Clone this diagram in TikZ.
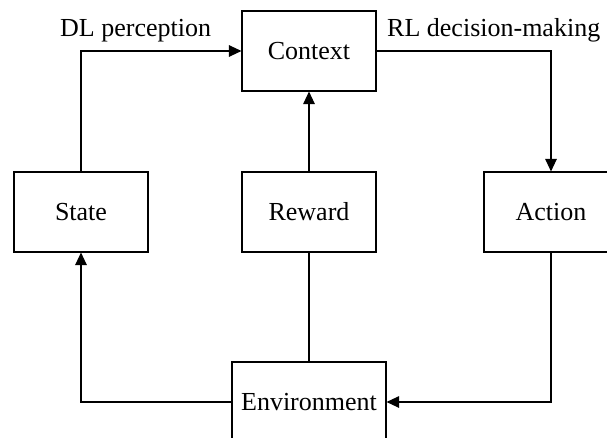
\documentclass[tikz,border=0pt]{standalone}
\usepackage{fontspec}
\setmainfont{Liberation Serif}
\usetikzlibrary{arrows.meta}

\begin{document}
\begin{tikzpicture}[x=1pt, y=-1pt,
    font=\fontsize{26}{31}\selectfont,
    box/.style={draw, line width=1.1pt, minimum width=134pt, minimum height=80pt, inner sep=0pt},
    conn/.style={line width=1.1pt},
    arr/.style={conn, -{Triangle[length=12.5pt, width=11.5pt]}},
    lbl/.style={anchor=base west, inner sep=0pt}
  ]
  \useasboundingbox (0,0) rectangle (607,438);
  \clip (0,0) rectangle (607,438);

  % blocks
  \node[box] (ctx)    at (309,51)  {Context};
  \node[box] (state)  at (81,212)  {State};
  \node[box] (rew)    at (309,212) {Reward};
  \node[box] (action) at (551,212) {Action};
  \node[box, minimum width=154pt] (env) at (309,402) {Environment};

  % edge labels
  \node[lbl] (dl) at (60,37)  {DL perception};
  \node[lbl] (rl) at (387,37) {RL decision-making};

  % loop connectors
  \draw[arr]  (state.north) |- (ctx.west);
  \draw[arr]  (ctx.east) -| (action.north);
  \draw[arr]  (rew.north) -- (ctx.south);
  \draw[conn] (env.north) -- (rew.south);
  \draw[arr]  (action.south) |- (env.east);
  \draw[arr]  (env.west) -| (state.south);
\end{tikzpicture}
\end{document}
